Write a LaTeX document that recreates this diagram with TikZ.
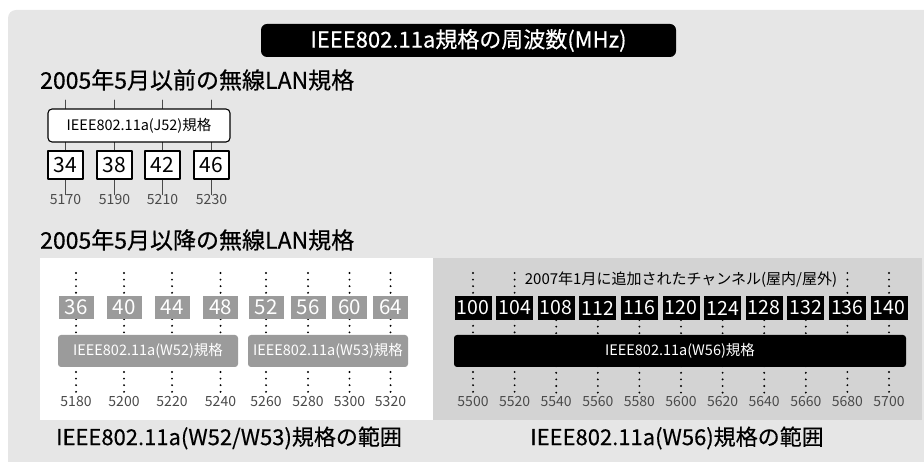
\documentclass[tikz,border=0pt]{standalone}
\usepackage{fontspec}
\setmainfont{Noto Sans CJK JP}
\definecolor{bggray}{HTML}{E6E6E6}
\definecolor{panelgray}{HTML}{D3D3D3}
\definecolor{chgray}{HTML}{9B9B9B}
\definecolor{freqgray}{HTML}{4A4A4A}

\begin{document}
\begin{tikzpicture}[x=1pt,y=-1pt,line cap=round,line join=round,
  heading/.style={anchor=west,inner sep=0pt,font=\fontsize{23}{25}\selectfont\addfontfeatures{FakeBold=0.6}},
  footer/.style={inner sep=0pt,font=\fontsize{22}{24}\selectfont\addfontfeatures{FakeBold=0.4}},
  freq/.style={inner sep=0pt,text=freqgray,font=\fontsize{14}{15}\selectfont},
  tick/.style={draw=freqgray,line width=0.9pt},
  dotcol/.style={line width=2.1pt,dash pattern=on 0pt off 6.6pt,line cap=round},
  whitech/.style={draw,fill=white,line width=1.1pt,minimum width=35pt,minimum height=28pt,inner sep=0pt,font=\fontsize{21}{22}\selectfont},
  greych/.style={fill=chgray,text=white,minimum width=35pt,minimum height=23pt,inner sep=0pt,font=\fontsize{20.5}{22}\selectfont},
  blackch/.style={fill=black,text=white,minimum width=37pt,minimum height=24pt,inner sep=0pt,font=\fontsize{19.5}{21}\selectfont},
  bandtext/.style={inner sep=0pt,font=\fontsize{14.5}{16}\selectfont}]
\useasboundingbox (0,0) rectangle (924,462);
% background and title
\fill[bggray,rounded corners=8pt] (8,10) rectangle (944,482);
\node[fill=black,text=white,rounded corners=6pt,minimum width=415pt,minimum height=33pt,inner sep=0pt,font=\fontsize{22}{24}\selectfont\addfontfeatures{FakeBold=0.4}] (title) at (468.5,40.5) {IEEE802.11a規格の周波数(MHz)};
\node[heading] (head1) at (40,80) {2005年5月以前の無線LAN規格};
\node[heading] (head2) at (40,240) {2005年5月以降の無線LAN規格};
% before May 2005
\coordinate (j1) at (65.5,100);
\coordinate (j2) at (114.5,100);
\coordinate (j3) at (162.5,100);
\coordinate (j4) at (211.5,100);
\node[freq] (f5170) at (65.5,200) {5170};
\node[freq] (f5190) at (114.5,200) {5190};
\node[freq] (f5210) at (162.5,200) {5210};
\node[freq] (f5230) at (211.5,200) {5230};
\draw[tick] (j1) -- (f5170.north);
\draw[tick] (j2) -- (f5190.north);
\draw[tick] (j3) -- (f5210.north);
\draw[tick] (j4) -- (f5230.north);
\node[draw,fill=white,line width=1.1pt,rounded corners=4pt,minimum width=182pt,minimum height=33pt,bandtext] (j52) at (139,125.5) {IEEE802.11a(J52)規格};
\node[whitech] (c34) at (65.5,165) {34};
\node[whitech] (c38) at (114.5,165) {38};
\node[whitech] (c42) at (162.5,165) {42};
\node[whitech] (c46) at (211.5,165) {46};
% after May 2005: W52 / W53
\fill[white] (40,258) rectangle (433,420);
\fill[panelgray] (433,258) rectangle (922,420);
\coordinate (w1) at (76,273);
\coordinate (w2) at (124,273);
\coordinate (w3) at (172,273);
\coordinate (w4) at (220.5,273);
\coordinate (w5) at (266,273);
\coordinate (w6) at (308,273);
\coordinate (w7) at (349.5,273);
\coordinate (w8) at (390.5,273);
\node[freq] (f5180) at (76,402) {5180};
\node[freq] (f5200) at (124,402) {5200};
\node[freq] (f5220) at (172,402) {5220};
\node[freq] (f5240) at (220.5,402) {5240};
\node[freq] (f5260) at (266,402) {5260};
\node[freq] (f5280) at (308,402) {5280};
\node[freq] (f5300) at (349.5,402) {5300};
\node[freq] (f5320) at (390.5,402) {5320};
\draw[dotcol] (w1) -- (f5180.north);
\draw[dotcol] (w2) -- (f5200.north);
\draw[dotcol] (w3) -- (f5220.north);
\draw[dotcol] (w4) -- (f5240.north);
\draw[dotcol] (w5) -- (f5260.north);
\draw[dotcol] (w6) -- (f5280.north);
\draw[dotcol] (w7) -- (f5300.north);
\draw[dotcol] (w8) -- (f5320.north);
\node[greych] (c36) at (76,307.5) {36};
\node[greych] (c40) at (124,307.5) {40};
\node[greych] (c44) at (172,307.5) {44};
\node[greych] (c48) at (220.5,307.5) {48};
\node[greych] (c52) at (266,307.5) {52};
\node[greych] (c56) at (308,307.5) {56};
\node[greych] (c60) at (349.5,307.5) {60};
\node[greych] (c64) at (390.5,307.5) {64};
\node[fill=chgray,text=white,rounded corners=3pt,minimum width=180pt,minimum height=32pt,bandtext] (w52) at (148,351) {IEEE802.11a(W52)規格};
\node[fill=chgray,text=white,rounded corners=3pt,minimum width=160pt,minimum height=32pt,bandtext] (w53) at (328,351) {IEEE802.11a(W53)規格};
% after May 2005: W56
\coordinate (v1) at (473,273);
\coordinate (v2) at (514.6,273);
\coordinate (v3) at (556.2,320);
\coordinate (v4) at (597.8,320);
\coordinate (v5) at (639.4,320);
\coordinate (v6) at (681,320);
\coordinate (v7) at (722.6,320);
\coordinate (v8) at (764.2,320);
\coordinate (v9) at (805.8,320);
\coordinate (v10) at (847.4,273);
\coordinate (v11) at (889,273);
\node[freq] (f5500) at (473,402) {5500};
\node[freq] (f5520) at (514.6,402) {5520};
\node[freq] (f5540) at (556.2,402) {5540};
\node[freq] (f5560) at (597.8,402) {5560};
\node[freq] (f5580) at (639.4,402) {5580};
\node[freq] (f5600) at (681,402) {5600};
\node[freq] (f5620) at (722.6,402) {5620};
\node[freq] (f5640) at (764.2,402) {5640};
\node[freq] (f5660) at (805.8,402) {5660};
\node[freq] (f5680) at (847.4,402) {5680};
\node[freq] (f5700) at (889,402) {5700};
\draw[dotcol] (v1) -- (f5500.north);
\draw[dotcol] (v2) -- (f5520.north);
\draw[dotcol] (v3) -- (f5540.north);
\draw[dotcol] (v4) -- (f5560.north);
\draw[dotcol] (v5) -- (f5580.north);
\draw[dotcol] (v6) -- (f5600.north);
\draw[dotcol] (v7) -- (f5620.north);
\draw[dotcol] (v8) -- (f5640.north);
\draw[dotcol] (v9) -- (f5660.north);
\draw[dotcol] (v10) -- (f5680.north);
\draw[dotcol] (v11) -- (f5700.north);
\node[inner sep=0pt,font=\fontsize{15}{16}\selectfont] (added) at (681,280) {2007年1月に追加されたチャンネル(屋内/屋外)};
\node[blackch] (c100) at (473,308) {100};
\node[blackch] (c104) at (514.6,308) {104};
\node[blackch] (c108) at (556.2,308) {108};
\node[blackch] (c112) at (597.8,308) {112};
\node[blackch] (c116) at (639.4,308) {116};
\node[blackch] (c120) at (681,308) {120};
\node[blackch] (c124) at (722.6,308) {124};
\node[blackch] (c128) at (764.2,308) {128};
\node[blackch] (c132) at (805.8,308) {132};
\node[blackch] (c136) at (847.4,308) {136};
\node[blackch] (c140) at (889,308) {140};
\node[fill=black,text=white,rounded corners=3pt,minimum width=452pt,minimum height=32pt,bandtext] (w56) at (680,351) {IEEE802.11a(W56)規格};
% range captions
\node[footer] (range1) at (229,438) {IEEE802.11a(W52/W53)規格の範囲};
\node[footer] (range2) at (677,438) {IEEE802.11a(W56)規格の範囲};
\end{tikzpicture}
\end{document}
